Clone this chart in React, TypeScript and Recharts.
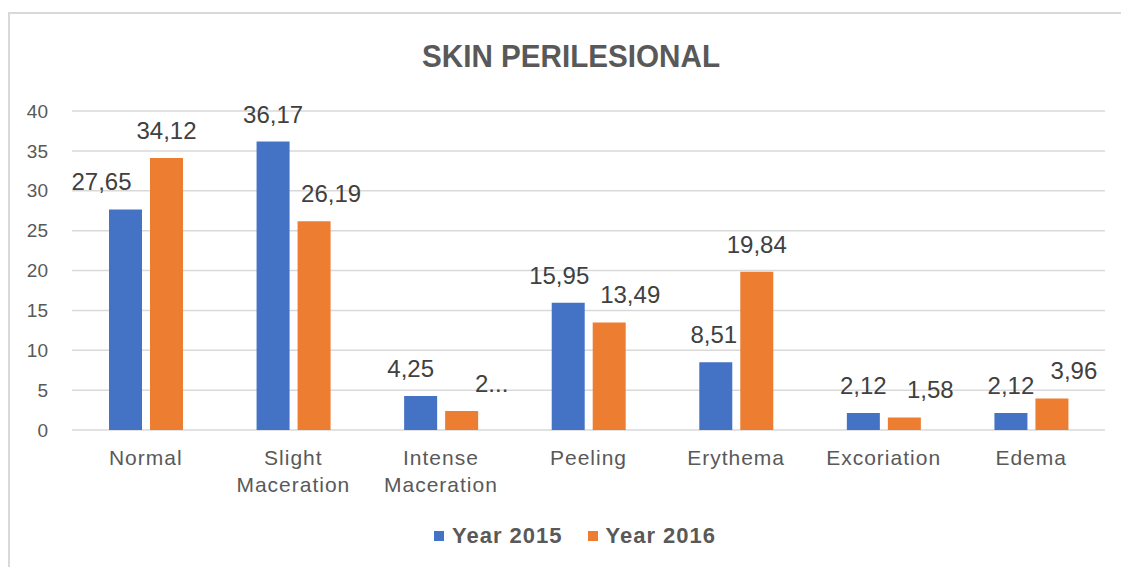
import { BarChart, Bar, XAxis, YAxis, CartesianGrid, Legend, LabelList } from 'recharts'

const categories = ['Normal', 'Slight Maceration', 'Intense Maceration', 'Peeling', 'Erythema', 'Excoriation', 'Edema']
const year2015 = [27.65, 36.17, 4.25, 15.95, 8.51, 2.12, 2.12]
const year2016 = [34.12, 26.19, 2.38, 13.49, 19.84, 1.58, 3.96]
const yTicks = [0, 5, 10, 15, 20, 25, 30, 35, 40]
// label that Excel cut off in the original
const clipped2016 = ['Intense Maceration']

// horizontal nudges of the value labels, as placed in the source chart
const shift2015 = [-24, 0, -10, -9, -2, 0, 0]
const shift2016 = [0, 17, 30, 21, 0, 26, 22]

const BLUE = '#4472C4'
const ORANGE = '#ED7D31'
const FONT = "'Liberation Sans', Arial, sans-serif"

const data = categories.map((name, i) => ({ name, y2015: year2015[i], y2016: year2016[i] }))

const fmt = (v: number) => v.toFixed(2).replace('.', ',')

function makeLabel(shift: number[], clipped: string[]) {
  return (props: any) => {
    const { x, y, width, value, index } = props
    let text = fmt(Number(value))
    if (clipped.includes(categories[index])) text = text.charAt(0) + '...'
    return (
      <text
        x={Number(x) + Number(width) / 2 + shift[index]}
        y={Number(y) - 19}
        textAnchor="middle"
        fill="#404040"
        fontSize={24}
        fontFamily={FONT}
      >
        {text}
      </text>
    )
  }
}

function CategoryTick({ x, y, payload }: any) {
  const lines = String(payload.value).split(' ')
  return (
    <text x={x} y={y} textAnchor="middle" fill="#595959" fontSize={21} letterSpacing={1} fontFamily={FONT}>
      {lines.map((l, i) => (
        <tspan key={i} x={x} dy={i === 0 ? 35 : 27}>
          {l}
        </tspan>
      ))}
    </text>
  )
}

function LegendContent() {
  const items = [
    { label: 'Year 2015', color: BLUE },
    { label: 'Year 2016', color: ORANGE },
  ]
  return (
    <div
      style={{
        display: 'flex',
        justifyContent: 'center',
        alignItems: 'center',
        height: 32,
        paddingLeft: 45,
        fontFamily: FONT,
      }}
    >
      {items.map((it, i) => (
        <div key={it.label} style={{ display: 'flex', alignItems: 'center', marginLeft: i === 0 ? 0 : 25 }}>
          <span style={{ width: 10, height: 10, background: it.color, marginRight: 8 }} />
          <span style={{ fontSize: 22, fontWeight: 'bold', color: '#595959', letterSpacing: 1 }}>{it.label}</span>
        </div>
      ))}
    </div>
  )
}

export default function App() {
  return (
    <div style={{ position: 'relative', width: 1121, height: 567, background: '#fff', overflow: 'hidden' }}>
      <style>{'body{margin:0;overflow:hidden}'}</style>
      <div
        style={{
          position: 'absolute',
          left: 8,
          top: 12,
          width: 1113,
          height: 555,
          boxSizing: 'border-box',
          borderTop: '2px solid #d9d9d9',
          borderLeft: '2px solid #d9d9d9',
        }}
      />
      <svg width={1121} height={100} style={{ position: 'absolute', left: 0, top: 0 }}>
        <text
          x={571}
          y={67}
          textAnchor="middle"
          fill="#595959"
          fontSize={32}
          fontWeight="bold"
          fontFamily={FONT}
          textLength={298}
          lengthAdjust="spacingAndGlyphs"
        >
          SKIN PERILESIONAL
        </text>
      </svg>
      <div style={{ position: 'absolute', left: 0, top: 0 }}>
        <BarChart
          width={1121}
          height={567}
          data={data}
          margin={{ top: 111, right: 16, bottom: 15, left: 0 }}
          barCategoryGap={37}
          barGap={8}
        >
          <CartesianGrid vertical={false} stroke="#d9d9d9" strokeWidth={1.5} />
          <XAxis
            dataKey="name"
            axisLine={false}
            tickLine={false}
            tickSize={0}
            tickMargin={0}
            height={90}
            interval={0}
            tick={<CategoryTick />}
          />
          <YAxis
            domain={[0, 40]}
            ticks={yTicks}
            width={72}
            axisLine={false}
            tickLine={false}
            tickSize={6}
            tickMargin={18}
            tick={{ fill: '#595959', fontSize: 19, fontFamily: FONT }}
          />
          <Legend verticalAlign="bottom" height={32} content={<LegendContent />} />
          <Bar dataKey="y2015" name="Year 2015" fill={BLUE} isAnimationActive={false}>
            <LabelList dataKey="y2015" content={makeLabel(shift2015, [])} />
          </Bar>
          <Bar dataKey="y2016" name="Year 2016" fill={ORANGE} isAnimationActive={false}>
            <LabelList dataKey="y2016" content={makeLabel(shift2016, clipped2016)} />
          </Bar>
        </BarChart>
      </div>
    </div>
  )
}
